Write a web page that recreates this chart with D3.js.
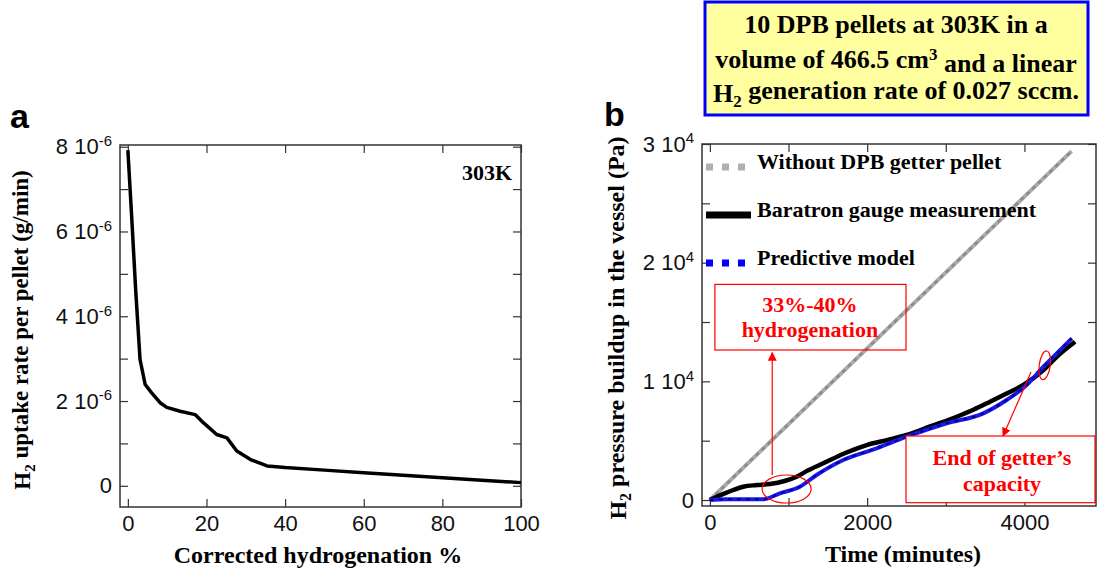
<!DOCTYPE html>
<html>
<head>
<meta charset="utf-8">
<script src="https://cdn.jsdelivr.net/npm/d3@7"></script>
<style>
  body { margin: 0; background: #fff; }
  svg { display: block; }
  .serif { font-family: "Liberation Serif", "Times New Roman", serif; font-weight: bold; }
  .tick text { font-family: "Liberation Sans", Arial, sans-serif; font-size: 22px; fill: #111; }
  .tick line { stroke: #333; stroke-width: 1.2; }
</style>
</head>
<body>
<svg id="chart" width="1097" height="571"></svg>
<script>
// ---- panel a : uptake rate vs corrected hydrogenation ----
var hydPct = [0, 1, 2, 3.1, 4.4, 6, 8.2, 9.9, 13.3, 17.1, 19.2, 22.6, 25.2, 27.7, 31.2, 35.4, 40, 50, 60, 70, 80, 90, 100];
var uptakeRate = [7.92e-6, 6.3e-6, 4.6e-6, 2.98e-6, 2.39e-6, 2.2e-6, 1.96e-6, 1.85e-6, 1.76e-6, 1.68e-6, 1.49e-6, 1.21e-6, 1.13e-6, 0.82e-6, 0.62e-6, 0.47e-6, 0.43e-6, 0.37e-6, 0.31e-6, 0.25e-6, 0.19e-6, 0.13e-6, 0.075e-6];

// ---- panel b : pressure buildup vs time ----
var timeGray = [0, 4600];
var pressGray = [0, 29400];

var timeBaratron = [0, 150, 297, 424, 600, 763, 950, 1103, 1250, 1442, 1700, 1994, 2250, 2503, 2800, 3139, 3350, 3562, 3780, 3986, 4241, 4411, 4644];
var pressBaratron = [0, 450, 843, 1120, 1260, 1348, 1600, 1963, 2500, 3092, 3900, 4633, 5050, 5476, 6200, 7018, 7600, 8281, 9000, 9688, 10952, 12073, 13336];

var timeModel = [0, 200, 400, 679, 891, 1145, 1357, 1696, 2121, 2503, 3011, 3477, 3774, 4028, 4241, 4411, 4602];
var pressModel = [0, 60, 60, 60, 564, 1120, 2106, 3370, 4352, 5333, 6462, 7304, 8425, 9688, 11230, 12359, 13623];

var legendLabels = ["Without DPB getter pellet", "Baratron gauge measurement", "Predictive model"];

var svg = d3.select("#chart");

function supLabels(sel, expo) {
  sel.selectAll(".tick text").each(function (d) {
    var t = d3.select(this);
    var txt = t.text();
    if (txt === "" || d === 0) return;
    t.text(null);
    t.append("tspan").text(txt + " 10");
    t.append("tspan").attr("dy", "-0.55em").style("font-size", "15px").text(expo);
  });
}

// ================= panel a =================
var xA = d3.scaleLinear().domain([-2, 100]).range([120, 521]);
var yA = d3.scaleLinear().domain([-0.5e-6, 8.04e-6]).range([507, 145]);
var yTicksA = d3.range(0, 9).map(function (i) { return i * 1e-6; });

var gA = svg.append("g");
gA.append("g").attr("transform", "translate(0,507)")
  .call(d3.axisBottom(xA).tickValues([0, 20, 40, 60, 80, 100]).tickSize(-8).tickPadding(8).tickFormat(d3.format("d")))
  .call(function (g) { g.select(".domain").remove(); });
gA.append("g").attr("transform", "translate(0,145)")
  .call(d3.axisTop(xA).tickValues([0, 20, 40, 60, 80, 100]).tickSize(-8).tickFormat(""))
  .call(function (g) { g.select(".domain").remove(); });
gA.append("g").attr("transform", "translate(120,0)")
  .call(d3.axisLeft(yA).tickValues(yTicksA).tickSize(-8).tickPadding(8)
    .tickFormat(function (d, i) { return i % 2 === 0 ? String(i) : ""; }))
  .call(function (g) { g.select(".domain").remove(); })
  .call(function (g) { supLabels(g, "-6"); });
gA.append("g").attr("transform", "translate(521,0)")
  .call(d3.axisRight(yA).tickValues(yTicksA).tickSize(-8).tickFormat(""))
  .call(function (g) { g.select(".domain").remove(); });
gA.append("rect").attr("x", 120).attr("y", 145).attr("width", 401).attr("height", 362)
  .attr("fill", "none").attr("stroke", "#333").attr("stroke-width", 1.5);

gA.append("path")
  .datum(hydPct.map(function (v, i) { return [v, uptakeRate[i]]; }))
  .attr("fill", "none").attr("stroke", "#000").attr("stroke-width", 3.5).attr("stroke-linejoin", "round")
  .attr("d", d3.line().x(function (d) { return xA(d[0]); }).y(function (d) { return yA(d[1]); }));

gA.append("text").attr("class", "serif").attr("x", 512).attr("y", 180).attr("text-anchor", "end")
  .style("font-size", "22px").text("303K");

gA.append("text").attr("class", "serif").attr("x", 318).attr("y", 563).attr("text-anchor", "middle")
  .style("font-size", "24px").text("Corrected hydrogenation %");

var ylA = gA.append("text").attr("class", "serif").attr("transform", "translate(30,330) rotate(-90)")
  .attr("text-anchor", "middle").style("font-size", "23px");
ylA.append("tspan").text("H");
ylA.append("tspan").attr("dy", "0.3em").style("font-size", "15px").text("2");
ylA.append("tspan").attr("dy", "-0.3em").text(" uptake rate per pellet (g/min)");

svg.append("text").attr("x", 10).attr("y", 128)
  .style("font-family", "Liberation Sans, Arial, sans-serif").style("font-weight", "bold").style("font-size", "34px").text("a");

// ================= panel b =================
var xB = d3.scaleLinear().domain([-100, 4910]).range([702, 1096]);
var yB = d3.scaleLinear().domain([-505, 30000]).range([506, 144]);
var xTicksB = d3.range(0, 5000, 1000);
var yTicksB = d3.range(0, 30001, 5000);

var gB = svg.append("g");
gB.append("g").attr("transform", "translate(0,506)")
  .call(d3.axisBottom(xB).tickValues(xTicksB).tickSize(-8).tickPadding(8)
    .tickFormat(function (d) { return d % 2000 === 0 ? String(d) : ""; }))
  .call(function (g) { g.select(".domain").remove(); });
gB.append("g").attr("transform", "translate(0,144)")
  .call(d3.axisTop(xB).tickValues(xTicksB).tickSize(-8).tickFormat(""))
  .call(function (g) { g.select(".domain").remove(); });
gB.append("g").attr("transform", "translate(702,0)")
  .call(d3.axisLeft(yB).tickValues(yTicksB).tickSize(-8).tickPadding(8)
    .tickFormat(function (d) { return d % 10000 === 0 ? String(d / 10000) : ""; }))
  .call(function (g) { g.select(".domain").remove(); })
  .call(function (g) { supLabels(g, "4"); });
gB.append("g").attr("transform", "translate(1096,0)")
  .call(d3.axisRight(yB).tickValues(yTicksB).tickSize(-8).tickFormat(""))
  .call(function (g) { g.select(".domain").remove(); });
gB.append("rect").attr("x", 702).attr("y", 144).attr("width", 394).attr("height", 362)
  .attr("fill", "none").attr("stroke", "#333").attr("stroke-width", 1.5);

var lineB = d3.line().x(function (d) { return xB(d[0]); }).y(function (d) { return yB(d[1]); });
var curveB = d3.line().curve(d3.curveMonotoneX).x(function (d) { return xB(d[0]); }).y(function (d) { return yB(d[1]); });
function pairs(a, b) { return a.map(function (v, i) { return [v, b[i]]; }); }

gB.append("path").datum(pairs(timeGray, pressGray)).attr("d", lineB)
  .attr("fill", "none").attr("stroke", "#ababab").attr("stroke-width", 4);
gB.append("path").datum(pairs(timeGray, pressGray)).attr("d", lineB)
  .attr("fill", "none").attr("stroke", "#8a8a8a").attr("stroke-width", 2.5).attr("stroke-dasharray", "4,4");
gB.append("path").datum(pairs(timeBaratron, pressBaratron)).attr("d", curveB)
  .attr("fill", "none").attr("stroke", "#000").attr("stroke-width", 4.5);
gB.append("path").datum(pairs(timeModel, pressModel)).attr("d", curveB)
  .attr("fill", "none").attr("stroke", "#1a1ae6").attr("stroke-width", 4);
gB.append("path").datum(pairs(timeModel, pressModel)).attr("d", curveB)
  .attr("fill", "none").attr("stroke", "#0000a0").attr("stroke-width", 2).attr("stroke-dasharray", "4,5");

// legend
var legY = [168, 216, 264];
var legStyles = [
  { color: "#b0b0b0", width: 7, dash: "7,9" },
  { color: "#000", width: 7, dash: null },
  { color: "#0000ff", width: 7, dash: "7,9" }
];
legendLabels.forEach(function (lab, i) {
  var y = legY[i] - 1;
  gB.append("line").attr("x1", 706).attr("x2", i === 1 ? 751 : 746).attr("y1", y).attr("y2", y)
    .attr("stroke", legStyles[i].color).attr("stroke-width", legStyles[i].width)
    .attr("stroke-dasharray", legStyles[i].dash);
  gB.append("text").attr("class", "serif").attr("x", 757).attr("y", legY[i] + 1)
    .style("font-size", "22px").text(lab);
});

// annotations (red)
var red = "#ff0000";
svg.append("defs").append("marker").attr("id", "arr").attr("viewBox", "0 0 10 10")
  .attr("refX", 9).attr("refY", 5).attr("markerWidth", 9).attr("markerHeight", 9)
  .attr("markerUnits", "userSpaceOnUse").attr("orient", "auto")
  .append("path").attr("d", "M0,0 L10,5 L0,10 z").attr("fill", red);

gB.append("rect").attr("x", xB(64)).attr("y", yB(18170)).attr("width", xB(2494) - xB(64)).attr("height", yB(12640) - yB(18170))
  .attr("fill", "none").attr("stroke", red).attr("stroke-width", 1.2);
gB.append("text").attr("class", "serif").attr("x", xB(1272)).attr("y", 312).attr("text-anchor", "middle")
  .attr("fill", red).style("font-size", "22px").text("33%-40%");
gB.append("text").attr("class", "serif").attr("x", xB(1272)).attr("y", 337).attr("text-anchor", "middle")
  .attr("fill", red).style("font-size", "22px").text("hydrogenation");
gB.append("line").attr("x1", xB(793)).attr("x2", xB(793)).attr("y1", yB(2106)).attr("y2", yB(12420))
  .attr("stroke", red).attr("stroke-width", 1.2).attr("marker-end", "url(#arr)");
gB.append("ellipse").attr("cx", xB(976)).attr("cy", yB(927)).attr("rx", 24.5).attr("ry", 14)
  .attr("fill", "none").attr("stroke", red).attr("stroke-width", 1.2);

gB.append("ellipse").attr("cx", 0).attr("cy", 0).attr("rx", 5.5).attr("ry", 14.5)
  .attr("transform", "translate(" + xB(4258) + "," + yB(11348) + ") rotate(8)")
  .attr("fill", "none").attr("stroke", red).attr("stroke-width", 1.2);
gB.append("line").attr("x1", xB(4084)).attr("y1", yB(10783)).attr("x2", xB(3728)).attr("y2", yB(5392))
  .attr("stroke", red).attr("stroke-width", 1.2).attr("marker-end", "url(#arr)");
gB.append("rect").attr("x", xB(2494)).attr("y", yB(5392)).attr("width", 1095 - xB(2494)).attr("height", yB(-227) - yB(5392))
  .attr("fill", "#fff").attr("stroke", red).attr("stroke-width", 1.2);
gB.append("text").attr("class", "serif").attr("x", 1002).attr("y", 465).attr("text-anchor", "middle")
  .attr("fill", red).style("font-size", "22px").text("End of getter\u2019s");
gB.append("text").attr("class", "serif").attr("x", 1002).attr("y", 491).attr("text-anchor", "middle")
  .attr("fill", red).style("font-size", "22px").text("capacity");

gB.append("text").attr("class", "serif").attr("x", 903).attr("y", 562).attr("text-anchor", "middle")
  .style("font-size", "24px").text("Time (minutes)");

var ylB = gB.append("text").attr("class", "serif").attr("transform", "translate(626,328) rotate(-90)")
  .attr("text-anchor", "middle").style("font-size", "24px");
ylB.append("tspan").text("H");
ylB.append("tspan").attr("dy", "0.3em").style("font-size", "16px").text("2");
ylB.append("tspan").attr("dy", "-0.3em").text(" pressure buildup in the vessel (Pa)");

svg.append("text").attr("x", 604).attr("y", 126)
  .style("font-family", "Liberation Sans, Arial, sans-serif").style("font-weight", "bold").style("font-size", "34px").text("b");

// title box
svg.append("rect").attr("x", 705).attr("y", 2).attr("width", 383).attr("height", 113)
  .attr("fill", "#ffffa0").attr("stroke", "#0000ff").attr("stroke-width", 3);
var tb = svg.append("text").attr("class", "serif").attr("text-anchor", "middle").style("font-size", "26px");
tb.append("tspan").attr("x", 896).attr("y", 33).text("10 DPB pellets at 303K in a");
var l2 = tb.append("tspan").attr("x", 896).attr("y", 68);
l2.append("tspan").text("volume of 466.5 cm");
l2.append("tspan").attr("dy", "-0.45em").style("font-size", "17px").text("3");
l2.append("tspan").attr("dy", "0.45em").text(" and a linear");
var l3 = tb.append("tspan").attr("x", 896).attr("y", 102);
l3.append("tspan").text("H");
l3.append("tspan").attr("dy", "0.3em").style("font-size", "17px").text("2");
l3.append("tspan").attr("dy", "-0.3em").text(" generation rate of 0.027 sccm.");
</script>
</body>
</html>
